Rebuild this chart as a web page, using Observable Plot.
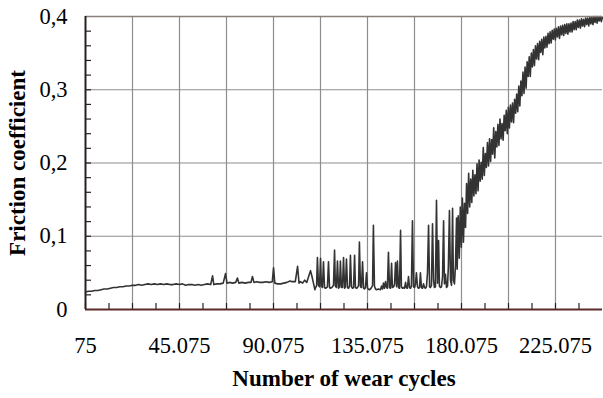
<!DOCTYPE html>
<html><head><meta charset="utf-8">
<script src="https://cdn.jsdelivr.net/npm/d3@7"></script>
<script src="https://cdn.jsdelivr.net/npm/@observablehq/plot@0.6"></script>
<style>html,body{margin:0;padding:0;background:#fff}</style>
</head><body><div id="chart"></div>
<script>
// Friction coefficient vs. number of wear cycles (cycles in thousands, mu)
const runInPhase = [
 [0.1,0.024],[1.5,0.025],[3,0.025],[4.5,0.026],[6,0.026],[7.5,0.027],[9,0.028],[10.5,0.028],[12,0.029],[13.5,0.030],
 [15,0.030],[16.5,0.031],[18,0.031],[19.5,0.032],[21,0.032],[22.5,0.033],[24,0.033],[25.5,0.034],[27,0.033],[28.5,0.034],
 [30,0.035],[31.5,0.034],[33,0.035],[34.5,0.034],[36,0.035],[37.5,0.034],[39,0.035],[40.5,0.034],[42,0.034],[43.5,0.035],
 [45,0.034],[46.5,0.035],[48,0.033],[49.5,0.034],[51,0.034],[52.5,0.033],[54,0.034],[55.5,0.033],[57,0.034],[58.5,0.035],
 [60,0.034],[60.9,0.046],[61.5,0.034],[63,0.035],[64.5,0.035],[66,0.036],[67.1,0.049],[67.8,0.036],[69,0.037],[70.5,0.036],
 [72,0.037],[72.8,0.043],[73.5,0.036],[75,0.037],[76.5,0.036],[78,0.037],[79.3,0.037],[80,0.045],[80.7,0.037],[82,0.038],
 [83.5,0.037],[85,0.037],[86.5,0.038],[88,0.037],[89.5,0.038],[90.1,0.057],[90.7,0.036],[92,0.035],[93.5,0.035],[95,0.036],
 [96.5,0.037],[98,0.039],[99,0.038],[100.5,0.038],[101.6,0.059],[102.3,0.036],[103,0.038],[104,0.036],[105,0.040],[106,0.037],
 [107,0.046],[107.8,0.053],[108.5,0.045],[109.2,0.036],[109.9,0.027]
];
const stickSlipPhase = [
 [110.2,0.030],[110.7,0.032],[111.1,0.071],[111.6,0.033],[112.1,0.031],[112.6,0.070],[113.0,0.032],[113.5,0.030],[114.0,0.065],[114.5,0.030],
 [115.0,0.029],[115.9,0.031],[116.4,0.065],[116.9,0.030],[117.4,0.029],[118.3,0.031],[118.8,0.033],[119.3,0.081],[119.7,0.032],[120.2,0.030],
 [120.7,0.066],[121.2,0.029],[121.7,0.031],[122.1,0.066],[122.6,0.030],[123.1,0.030],[123.6,0.071],[124.1,0.029],[124.5,0.031],[125.0,0.069],
 [125.5,0.030],[126.0,0.029],[126.5,0.032],[126.9,0.074],[127.4,0.031],[127.9,0.029],[128.4,0.030],[128.9,0.074],[129.3,0.030],[129.8,0.029],
 [130.3,0.030],[130.8,0.033],[131.2,0.092],[131.7,0.031],[132.2,0.030],[132.7,0.065],[133.2,0.029],[133.6,0.028],[134.1,0.030],[134.6,0.050],
 [135.1,0.029],[135.5,0.028],[136.0,0.027],[136.5,0.028],[137.0,0.030],[137.5,0.033],[137.9,0.115],[138.4,0.032],[138.9,0.028],[139.4,0.027],
 [140.3,0.028],[141.3,0.027],[141.8,0.032],[142.3,0.028],[142.7,0.036],[143.2,0.029],[143.7,0.038],[144.2,0.030],[144.6,0.029],[145.1,0.078],
 [145.6,0.030],[146.1,0.029],[146.6,0.063],[147.0,0.030],[147.5,0.031],[148.0,0.034],[148.5,0.064],[149.0,0.031],[149.4,0.066],[149.9,0.030],
 [150.4,0.029],[150.9,0.108],[151.3,0.031],[151.8,0.029],[152.3,0.030],[152.8,0.029],[153.3,0.037],[153.7,0.030],[154.2,0.029],[154.7,0.045],
 [155.2,0.030],[155.7,0.029],[156.1,0.032],[156.6,0.121],[157.1,0.031],[157.6,0.030],[158.0,0.034],[158.5,0.050],[159.0,0.031],[159.5,0.029],
 [160.0,0.030],[160.4,0.050],[160.9,0.030],[161.4,0.029],[161.9,0.035],[162.4,0.030],[162.8,0.029],[163.3,0.031],[163.8,0.050],[164.3,0.115],
 [164.8,0.031],[165.2,0.030],[165.7,0.033],[166.2,0.117],[166.7,0.040],[167.1,0.030],[167.6,0.031],[168.1,0.149],[168.6,0.036],[169.1,0.094],
 [169.5,0.032],[170.0,0.030],[170.5,0.031],[171.0,0.045],[171.5,0.121],[171.9,0.035],[172.4,0.048],[172.9,0.030],[173.4,0.032],[173.8,0.060],
 [174.3,0.135],[174.8,0.040],[175.3,0.033],[175.8,0.138],[176.2,0.040],[176.7,0.035],[177.2,0.060],[177.7,0.125]
];
const wearPhase = [
 [178.0,0.055],[178.5,0.128],[179.0,0.070],[179.5,0.140],[180.0,0.085],[180.5,0.152],[181.0,0.092],[181.5,0.145],[182.0,0.112],[182.5,0.172],
 [183.0,0.131],[183.5,0.186],[184.0,0.140],[184.5,0.178],[185.0,0.146],[185.5,0.190],[186.0,0.155],[186.5,0.184],[187.0,0.158],[187.5,0.199],
 [188.0,0.162],[188.5,0.204],[189.0,0.175],[189.5,0.201],[190.0,0.178],[190.5,0.221],[191.0,0.183],[191.5,0.213],[192.0,0.194],[192.5,0.228],
 [193.0,0.196],[193.5,0.233],[194.0,0.202],[194.5,0.232],[195.0,0.212],[195.5,0.248],[196.0,0.207],[196.5,0.243],[197.0,0.222],[197.5,0.253],
 [198.0,0.224],[198.5,0.260],[199.0,0.233],[199.5,0.254],[200.0,0.231],[200.5,0.265],[201.0,0.244],[201.5,0.272],[202.0,0.240],[202.5,0.276],
 [203.0,0.248],[203.5,0.279],[204.0,0.256],[204.5,0.282],[205.0,0.255],[205.5,0.287],[206.0,0.268],[206.5,0.294],[207.0,0.270],[207.5,0.305],
 [208.0,0.278],[208.5,0.312],[209.0,0.292],[209.5,0.324],[210.0,0.295],[210.5,0.331],[211.0,0.302],[211.5,0.338],[212.0,0.318],[212.5,0.345],
 [213.0,0.318],[213.5,0.350],[214.0,0.331],[214.5,0.355],[215.0,0.333],[215.5,0.360],[216.0,0.342],[216.5,0.363],[217.0,0.341],[217.5,0.366],
 [218.0,0.351],[218.5,0.369],[219.0,0.348],[219.5,0.372],[220.0,0.357],[220.5,0.373],[221.0,0.358],[221.5,0.377],[222.0,0.363],[222.5,0.379],
 [223.0,0.364],[223.5,0.381],[224.0,0.369],[224.5,0.383],[225.0,0.368],[225.5,0.384],[226.0,0.372],[226.5,0.386],[227.0,0.370],[227.5,0.387],
 [228.0,0.375],[228.5,0.388],[229.0,0.374],[229.5,0.389],[230.0,0.377],[230.5,0.390],[231.0,0.376],[231.5,0.390],[232.0,0.379],[232.5,0.391],
 [233.0,0.379],[233.5,0.393],[234.0,0.382],[234.5,0.393],[235.0,0.382],[235.5,0.395],[236.0,0.385],[236.5,0.395],[237.0,0.384],[237.5,0.397],
 [238.0,0.387],[238.5,0.396],[239.0,0.386],[239.5,0.398],[240.0,0.389],[240.5,0.398],[241.0,0.387],[241.5,0.399],[242.0,0.390],[242.5,0.399],
 [243.0,0.389],[243.5,0.400],[244.0,0.392],[244.5,0.400],[245.0,0.391],[245.5,0.400],[246.0,0.394],[246.5,0.400],[247.0,0.393],[247.5,0.399]
];

const xTickCycles = [75, 45075, 90075, 135075, 180075, 225075];
const xTickLabels = ["75", "45.075", "90.075", "135.075", "180.075", "225.075"];
const xGridCycles = [22575, 45075, 67575, 90075, 112575, 135075, 157575, 180075, 202575, 225075];
const xMinorTicks = [75, 11325, 22575, 33825, 45075, 56325, 67575, 78825, 90075, 101325, 112575, 123825, 135075, 146325, 157575, 168825, 180075, 191325, 202575, 213825, 225075, 236325];
const yTicks = [0, 0.1, 0.2, 0.3, 0.4];
const yTickLabels = ["0", "0,1", "0,2", "0,3", "0,4"];
const yGrid = [0.1, 0.2, 0.3];
const yMinorTicks = [0.02, 0.04, 0.06, 0.08, 0.1, 0.12, 0.14, 0.16, 0.18, 0.2, 0.22, 0.24, 0.26, 0.28, 0.3, 0.32, 0.34, 0.36, 0.38];
const xTitle = "Number of wear cycles";
const yTitle = "Friction coefficient";

const data = [...runInPhase, ...stickSlipPhase, ...wearPhase].map(([k, mu]) => ({cycles: k * 1000, mu}));
const xLabel = new Map(xTickCycles.map((v, i) => [v, xTickLabels[i]]));
const yLabel = new Map(yTicks.map((v, i) => [v, yTickLabels[i]]));

const chart = Plot.plot({
  width: 603, height: 398,
  marginLeft: 85, marginRight: 1, marginTop: 16, marginBottom: 89,
  style: {fontFamily: '"Liberation Serif","Times New Roman",serif', fontSize: "22px", background: "#fff", color: "#000"},
  x: {domain: [75, 247575]},
  y: {domain: [0, 0.4]},
  marks: [
    Plot.gridX(xGridCycles, {stroke: "#8e8e8e", strokeOpacity: 1, strokeWidth: 1.2}),
    Plot.gridY(yGrid, {stroke: "#8e8e8e", strokeOpacity: 1, strokeWidth: 1.2}),
    Plot.tickX(xMinorTicks, {stroke: "#222", strokeWidth: 1.2, insetTop: 287}),
    Plot.tickY(yMinorTicks, {stroke: "#222", strokeWidth: 1.2, insetRight: 511}),
    Plot.line(data, {x: "cycles", y: "mu", stroke: "#333", strokeWidth: 1.6}),
    Plot.ruleY([0.4], {stroke: "#8a7e7a", strokeWidth: 1.6}),
    Plot.ruleY([0], {stroke: "#5b2a2a", strokeWidth: 2}),
    Plot.ruleX([75], {stroke: "#2b2020", strokeWidth: 2}),
    Plot.axisX(xTickCycles, {tickSize: 0, tickPadding: 28, tickFormat: d => xLabel.get(d), fontSize: 22.5, label: null}),
    Plot.axisY(yTicks, {tickSize: 0, tickPadding: 18, tickFormat: d => yLabel.get(d), fontSize: 22.5, label: null}),
    Plot.text([xTitle], {frameAnchor: "bottom", dy: 76, fontWeight: "bold", fontSize: 23}),
    Plot.text([yTitle], {frameAnchor: "left", textAnchor: "middle", dx: -68, rotate: -90, fontWeight: "bold", fontSize: 23})
  ]
});
document.getElementById("chart").append(chart);
</script>
</body></html>
